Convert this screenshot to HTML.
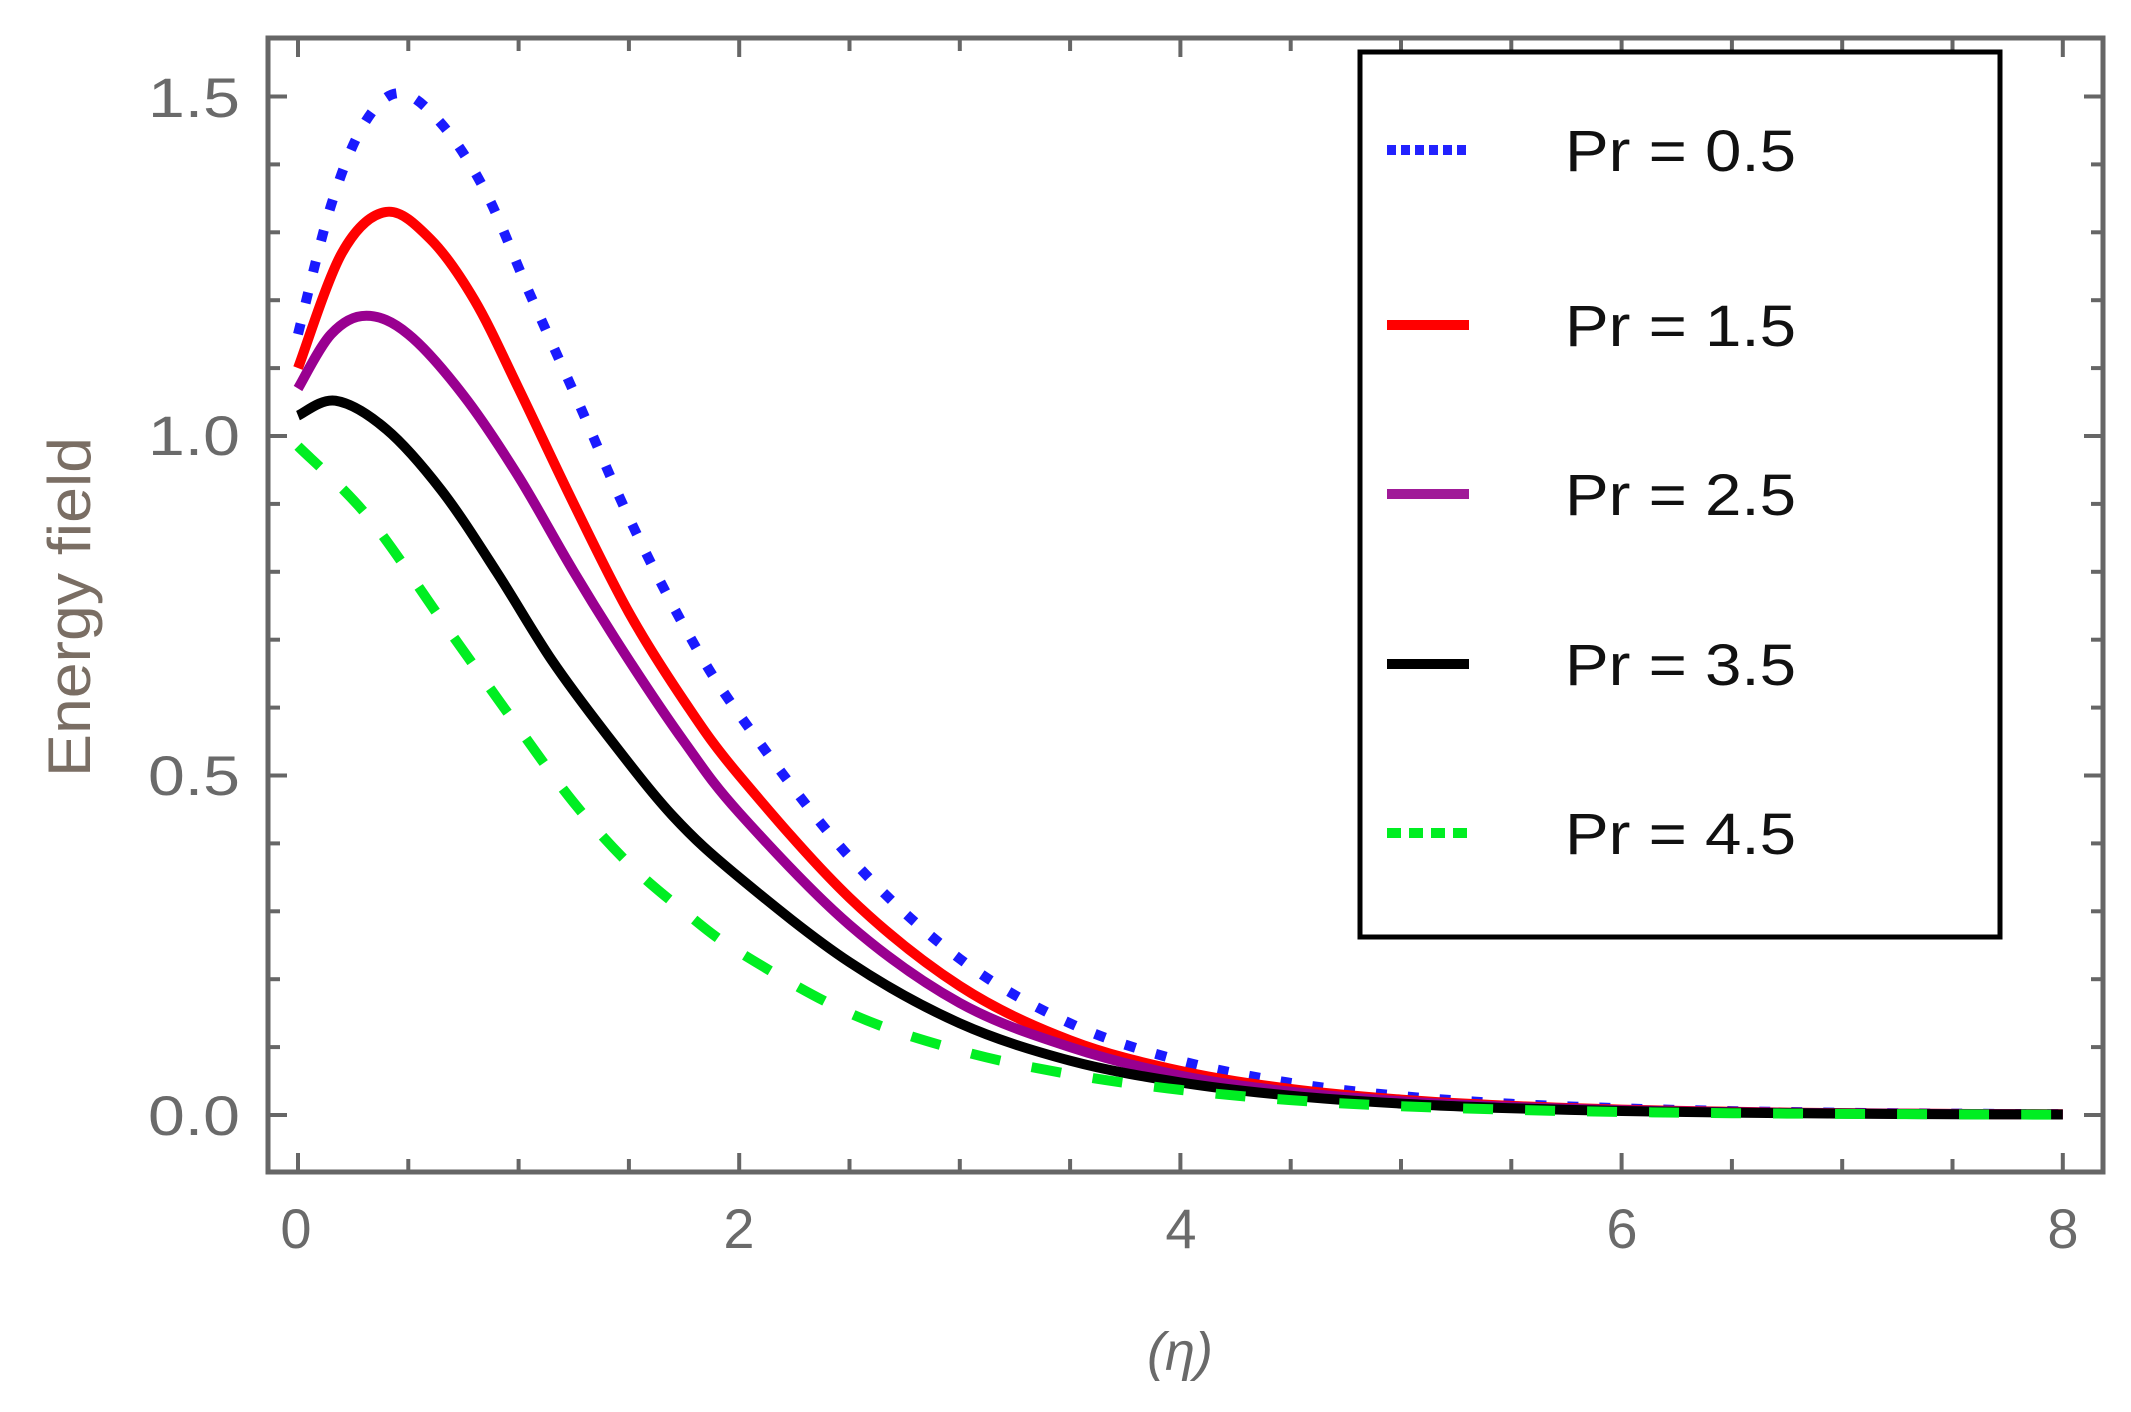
<!DOCTYPE html>
<html><head><meta charset="utf-8">
<style>html,body{margin:0;padding:0;background:#fff;}svg{display:block;}</style>
</head><body>
<svg id="s" width="2131" height="1412" viewBox="0 0 2131 1412" xmlns="http://www.w3.org/2000/svg" font-family="Liberation Sans, sans-serif">
<rect x="0" y="0" width="2131" height="1412" fill="#fff"/>
<g id="ticks" stroke="#666" stroke-width="4"></g>
<g id="curves" fill="none" stroke-linecap="butt"></g>
<rect x="268" y="38" width="1835" height="1134" fill="none" stroke="#666" stroke-width="5"/>
<g fill="#6a6a6a" font-size="56">
<text x="240" y="117" text-anchor="end" textLength="92" lengthAdjust="spacingAndGlyphs">1.5</text>
<text x="240" y="455" text-anchor="end" textLength="92" lengthAdjust="spacingAndGlyphs">1.0</text>
<text x="240" y="795" text-anchor="end" textLength="92" lengthAdjust="spacingAndGlyphs">0.5</text>
<text x="240" y="1135" text-anchor="end" textLength="92" lengthAdjust="spacingAndGlyphs">0.0</text>
<text x="296" y="1248" text-anchor="middle">0</text>
<text x="739" y="1248" text-anchor="middle">2</text>
<text x="1181" y="1248" text-anchor="middle">4</text>
<text x="1622" y="1248" text-anchor="middle">6</text>
<text x="2063" y="1248" text-anchor="middle">8</text>
<text x="1180" y="1370" text-anchor="middle" font-style="italic" font-size="54">(η)</text>
<text transform="translate(90,607) rotate(-90)" text-anchor="middle" font-size="60" textLength="340" lengthAdjust="spacingAndGlyphs" fill="#7a6e64">Energy field</text>
</g>
<rect x="1360" y="52" width="640" height="885" fill="#fff" stroke="#000" stroke-width="5"/>
<g stroke-width="10">
<line x1="1387" y1="150" x2="1469" y2="150" stroke="#2222ff" stroke-dasharray="9 5"/>
<line x1="1387" y1="325" x2="1469" y2="325" stroke="#ff0000"/>
<line x1="1387" y1="494" x2="1469" y2="494" stroke="#a01a98"/>
<line x1="1387" y1="664" x2="1469" y2="664" stroke="#000"/>
<line x1="1387" y1="833" x2="1469" y2="833" stroke="#00ee22" stroke-dasharray="14 8"/>
</g>
<g fill="#111" font-size="58">
<text x="1565" y="171" textLength="231" lengthAdjust="spacingAndGlyphs">Pr = 0.5</text>
<text x="1565" y="346" textLength="231" lengthAdjust="spacingAndGlyphs">Pr = 1.5</text>
<text x="1565" y="515" textLength="231" lengthAdjust="spacingAndGlyphs">Pr = 2.5</text>
<text x="1565" y="685" textLength="231" lengthAdjust="spacingAndGlyphs">Pr = 3.5</text>
<text x="1565" y="854" textLength="231" lengthAdjust="spacingAndGlyphs">Pr = 4.5</text>
</g>
</svg>
<script>
var X0=298,XS=220.6,Y0=1115,YS=679;
function px(x){return X0+x*XS;} function py(y){return Y0-y*YS;}
var NS="http://www.w3.org/2000/svg";
var tg=document.getElementById('ticks');
function ln(x1,y1,x2,y2){var l=document.createElementNS(NS,'line');l.setAttribute('x1',x1);l.setAttribute('y1',y1);l.setAttribute('x2',x2);l.setAttribute('y2',y2);tg.appendChild(l);}
for(var i=0;i<=16;i++){var x=px(i*0.5);var L=(i%4==0)?19:13;ln(x,1172,x,1172-L);ln(x,38,x,38+L);}
for(var j=0;j<=15;j++){var y=py(j*0.1);var L=(j%5==0)?19:12;ln(268,y,268+L,y);ln(2103,y,2103-L,y);}
var tail=function(v,x0){var a=[];for(var x=x0+0.5;x<=8.001;x+=0.5){a.push([x,v*Math.exp(-1.05*(x-x0))]);}return a;};
var data=[
 ["#1a1aff","11 21",[[0,1.15],[0.15,1.34],[0.3,1.46],[0.46,1.505],[0.65,1.46],[0.85,1.36],[1.05,1.21],[1.27,1.05],[1.5,0.88],[1.75,0.72],[2,0.59],[2.5,0.38],[3,0.23],[3.5,0.135],[4,0.08]],4,0.08],
 ["#ff0000",null,[[0,1.1],[0.2,1.27],[0.4,1.33],[0.6,1.29],[0.8,1.2],[1.0,1.07],[1.25,0.9],[1.5,0.74],[1.75,0.61],[2,0.5],[2.5,0.32],[3,0.19],[3.5,0.11],[4,0.065]],4,0.065],
 ["#990090",null,[[0,1.07],[0.15,1.15],[0.31,1.177],[0.5,1.15],[0.75,1.06],[1,0.94],[1.25,0.8],[1.5,0.67],[1.75,0.55],[2,0.445],[2.5,0.28],[3,0.165],[3.5,0.1],[4,0.058]],4,0.058],
 ["#000000",null,[[0,1.03],[0.17,1.052],[0.4,1.01],[0.65,0.92],[0.9,0.8],[1.15,0.67],[1.4,0.56],[1.7,0.44],[2,0.35],[2.5,0.225],[3,0.135],[3.5,0.08],[4,0.048]],4,0.048],
 ["#00ee22","30 32",[[0,0.985],[0.32,0.88],[0.67,0.72],[1.0,0.57],[1.25,0.46],[1.5,0.37],[1.75,0.3],[2,0.24],[2.5,0.15],[3,0.095],[3.5,0.06],[4,0.037]],4,0.037]
];
var cg=document.getElementById('curves');
data.forEach(function(d){
 var pts=d[2].concat(tail(d[4],d[3]));
 var p=pts.map(function(q){return [px(q[0]),py(q[1])];});
 var s="M"+p[0][0].toFixed(1)+","+p[0][1].toFixed(1);
 for(var i=0;i<p.length-1;i++){
  var a=p[i-1]||p[i],b=p[i],c=p[i+1],e=p[i+2]||p[i+1];
  var c1=[b[0]+(c[0]-a[0])/6,b[1]+(c[1]-a[1])/6],c2=[c[0]-(e[0]-b[0])/6,c[1]-(e[1]-b[1])/6];
  s+=" C"+c1[0].toFixed(1)+","+c1[1].toFixed(1)+" "+c2[0].toFixed(1)+","+c2[1].toFixed(1)+" "+c[0].toFixed(1)+","+c[1].toFixed(1);
 }
 var el=document.createElementNS(NS,'path');el.setAttribute('d',s);el.setAttribute('stroke',d[0]);el.setAttribute('stroke-width','10');
 if(d[1])el.setAttribute('stroke-dasharray',d[1]);
 cg.appendChild(el);
});
</script>
</body></html>
